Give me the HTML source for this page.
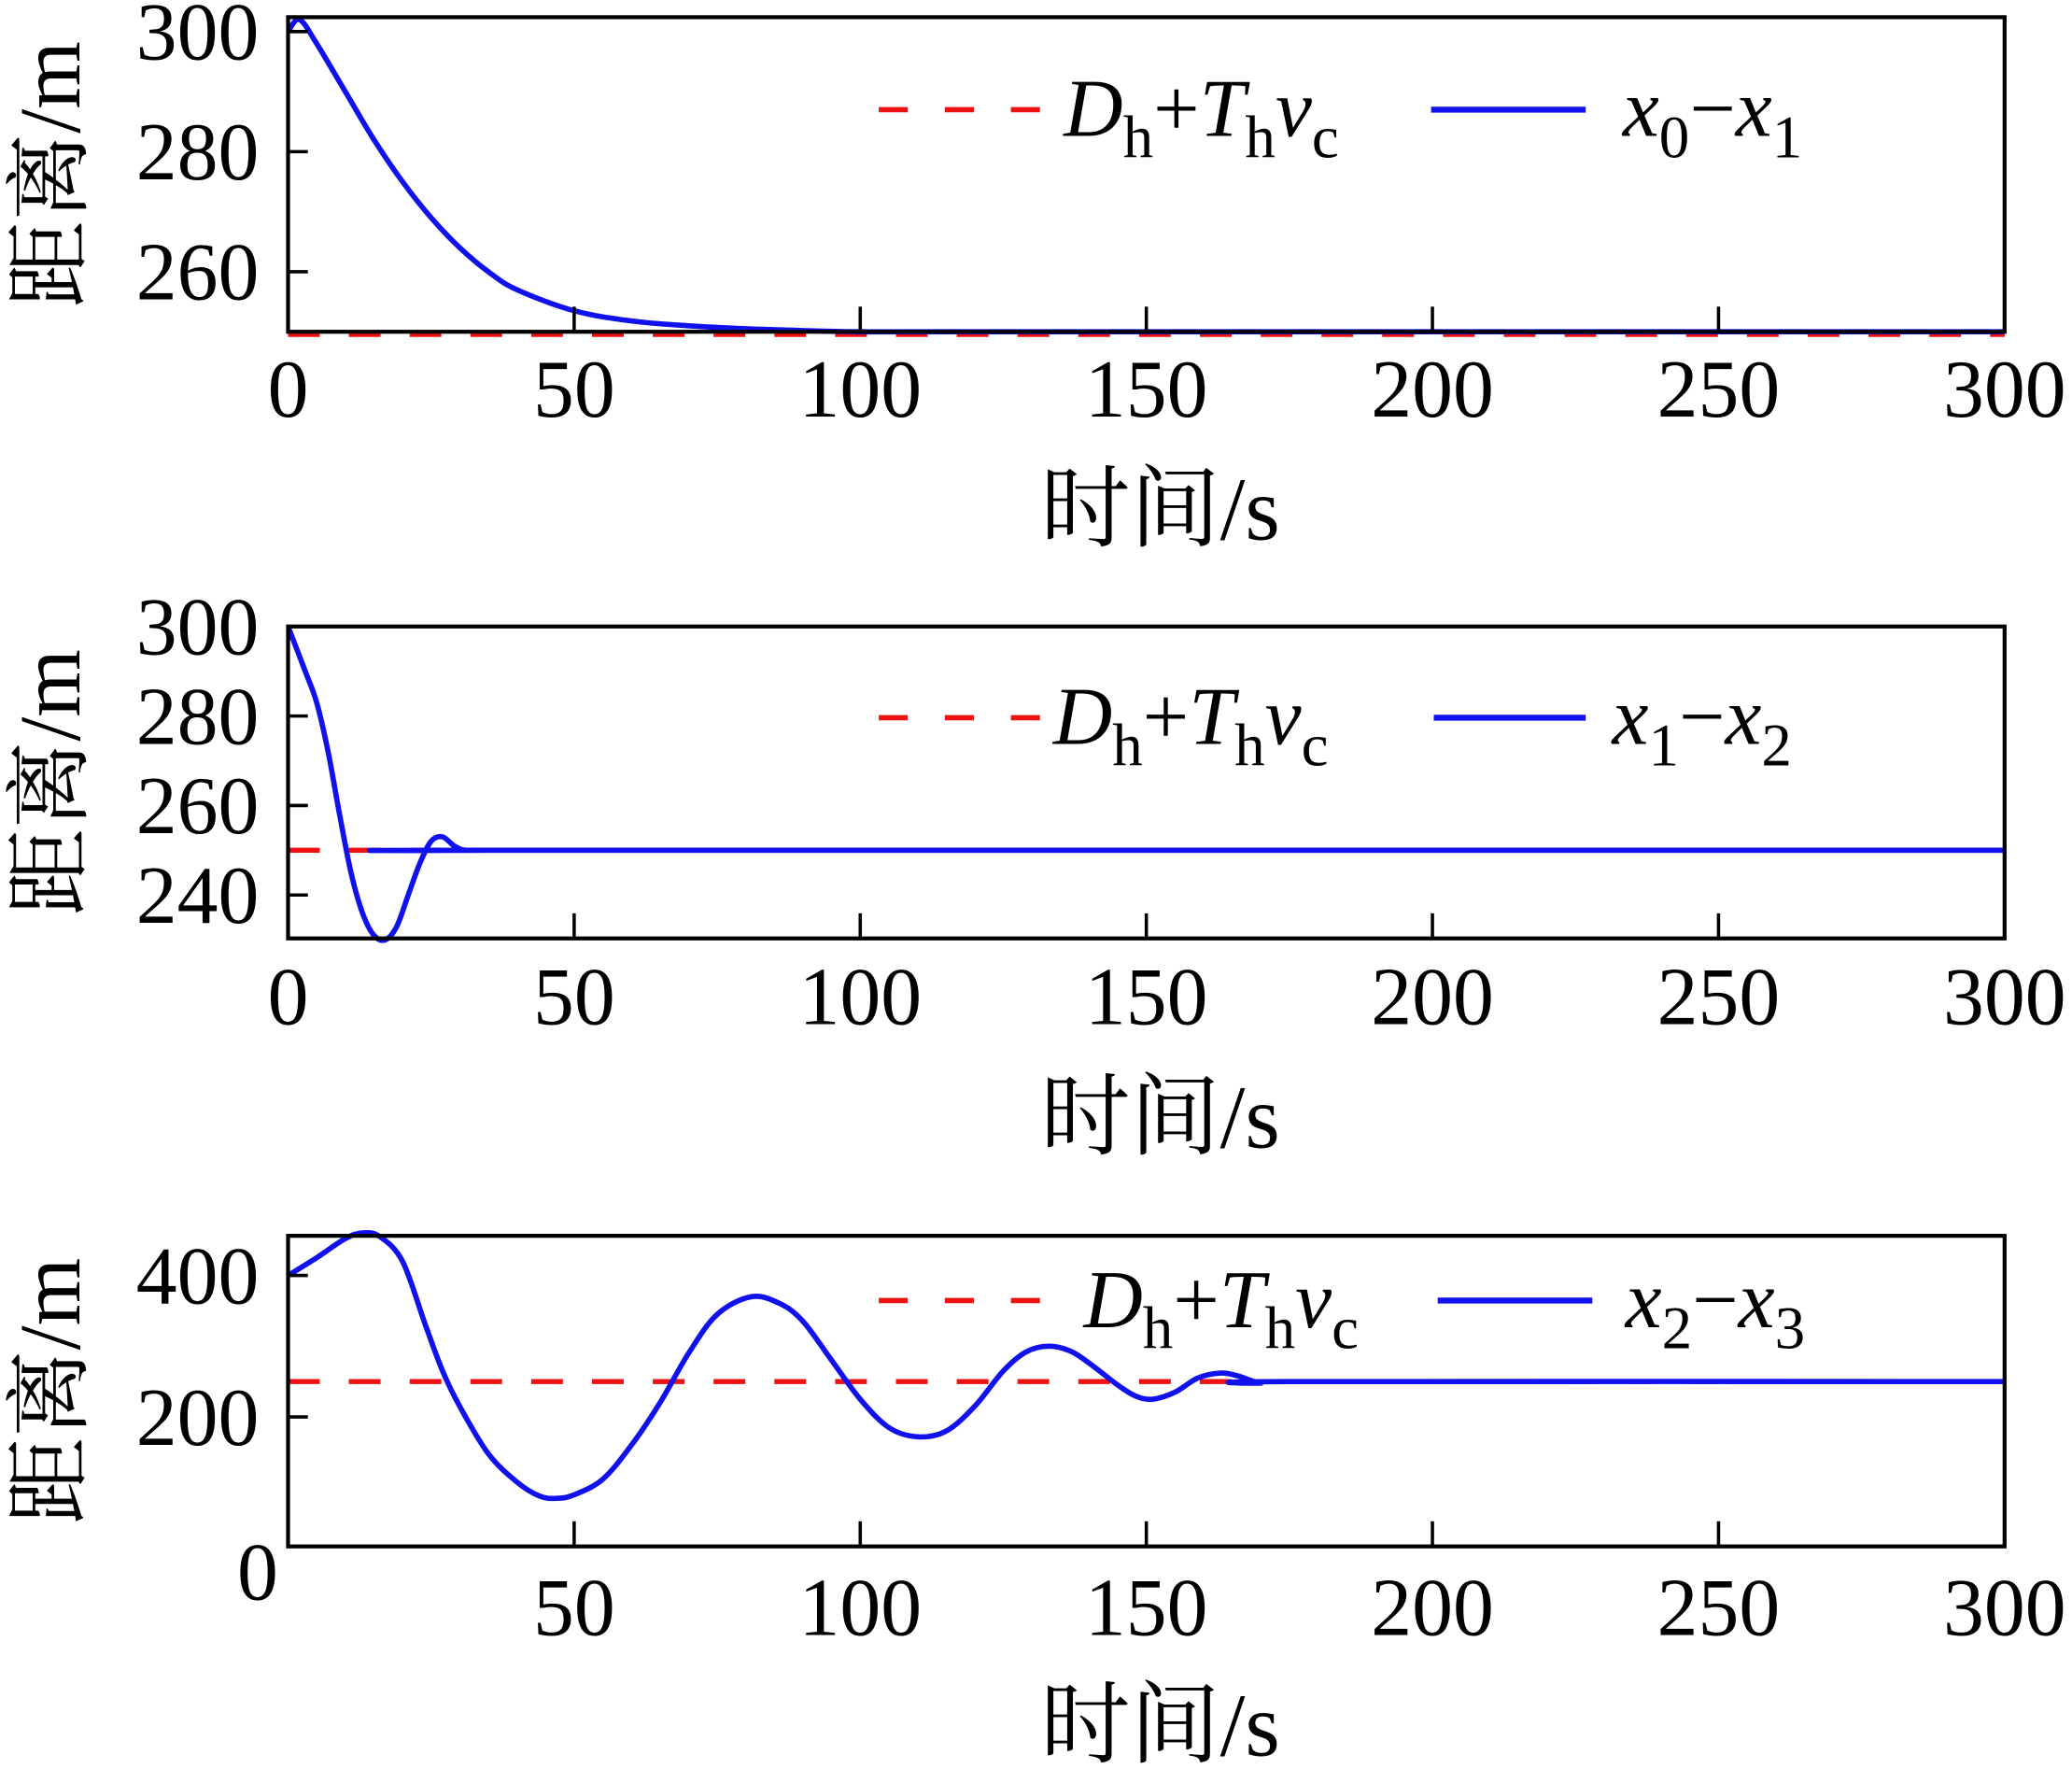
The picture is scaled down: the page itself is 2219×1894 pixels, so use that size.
<!DOCTYPE html>
<html><head><meta charset="utf-8"><style>
html,body{margin:0;padding:0;background:#fff;}
svg{display:block;}
text{font-family:"Liberation Serif","Noto Serif CJK SC",serif;fill:#000;}
</style></head><body>
<svg id="chart" width="2219" height="1894" viewBox="0 0 1568 1338.4" preserveAspectRatio="none" xmlns="http://www.w3.org/2000/svg"></svg>
<script>
// ---- data ----
const xTicks = [0, 50, 100, 150, 200, 250, 300];
const p1Ticks = [260, 280, 300];
const p2Ticks = [240, 260, 280, 300];
const p3Ticks = [200, 400];
const refValue = 250;
const p1T = [0, 2, 5, 10, 15, 20, 25, 30, 35, 40, 50, 60, 70, 80, 90, 100, 120, 300];
const p1V = [300, 302, 298, 290, 282, 275, 269, 264, 260, 257, 253.5, 251.8, 251, 250.5, 250.2, 250, 250, 250];
const p2T = [0, 3, 5, 7, 9, 11, 13, 15, 17, 19, 21, 23, 25, 27, 29, 31, 35, 300];
const p2V = [300, 290, 283, 272, 258, 245, 236, 231, 230, 233, 240, 247, 252, 253, 251, 250, 250, 250];
const p3T = [0, 5, 10, 13, 16, 20, 24, 27, 30, 35, 40, 44, 47, 50, 55, 60, 65, 70, 75, 81, 86, 90, 95, 100, 105, 110, 115, 120, 125, 129, 133, 137, 141, 145, 148, 151, 155, 159, 163, 166, 170, 175, 300];
const p3V = [400, 425, 452, 460, 455, 420, 330, 265, 215, 148, 108, 88, 85, 90, 112, 160, 220, 290, 345, 370, 360, 335, 280, 225, 185, 172, 180, 215, 265, 292, 300, 292, 270, 245, 230, 225, 235, 255, 262, 258, 248, 250, 250];
const seriesLabels = [["0","1"],["1","2"],["2","3"]];

const svg = document.getElementById('chart');
const NS = 'http://www.w3.org/2000/svg';
function mk(tag, attrs, parent){const e=document.createElementNS(NS,tag);for(const k in attrs)e.setAttribute(k,attrs[k]);(parent||svg).appendChild(e);return e;}

const L=218, R=1517;
const panels = [
 {top:13,bottom:251,ymin:250,ymax:302.4,ticks:p1Ticks,T:p1T,V:p1V,legY:83,dTx:805,xTx:1228,bl1:1083,bl2:1200,tickBase:315,titleBase:408},
 {top:474,bottom:710,ymin:230.3,ymax:300,ticks:p2Ticks,T:p2T,V:p2V,legY:543,dTx:797,xTx:1220,bl1:1085,bl2:1200,tickBase:775,titleBase:868},
 {top:935,bottom:1170,ymin:17,ymax:456,ticks:p3Ticks,T:p3T,V:p3V,legY:984,dTx:820,xTx:1230,bl1:1088,bl2:1205,tickBase:1237,titleBase:1328}
];

function smoothPath(pts){
  let d='M'+pts[0][0].toFixed(2)+','+pts[0][1].toFixed(2);
  for(let i=0;i<pts.length-1;i++){
    const p0=pts[Math.max(0,i-1)],p1=pts[i],p2=pts[i+1],p3=pts[Math.min(pts.length-1,i+2)];
    const c1=[p1[0]+(p2[0]-p0[0])/6,p1[1]+(p2[1]-p0[1])/6];
    const c2=[p2[0]-(p3[0]-p1[0])/6,p2[1]-(p3[1]-p1[1])/6];
    d+='C'+c1[0].toFixed(2)+','+c1[1].toFixed(2)+' '+c2[0].toFixed(2)+','+c2[1].toFixed(2)+' '+p2[0].toFixed(2)+','+p2[1].toFixed(2);
  }
  return d;
}

panels.forEach((p,idx)=>{
  const g=mk('g',{});
  
  
  const xs=t=>L+(t/300)*(R-L);
  const ys=v=>p.bottom-(v-p.ymin)/(p.ymax-p.ymin)*(p.bottom-p.top);
  const cp=mk('clipPath',{id:'clip'+idx},g);
  mk('rect',{x:L,y:p.top-6,width:R-L,height:p.bottom-p.top+10},cp);
  const ref=mk('line',{x1:L,x2:R,y1:ys(refValue)+(idx===0?2:0),y2:ys(refValue)+(idx===0?2:0),stroke:'#ee1111','stroke-width':3.8,'stroke-dasharray':'24 22'},g);
  
  
  const pts=p.T.map((t,i)=>[xs(t),ys(p.V[i])]);
  const path=mk('path',{d:smoothPath(pts),fill:'none',stroke:'#1111ee','stroke-width':4,'clip-path':'url(#clip'+idx+')'},g);
  
  
  const fr=mk('rect',{x:L,y:p.top,width:R-L,height:p.bottom-p.top,fill:'none',stroke:'#000','stroke-width':3},g);
  
  
  xTicks.forEach(t=>{
    if(t>0&&t<300){mk('line',{x1:xs(t),x2:xs(t),y1:p.bottom,y2:p.bottom-19,stroke:'#000','stroke-width':2.5},g);}
    if(idx===2&&t===0)return;
    const tx=mk('text',{x:xs(t),y:p.tickBase,'text-anchor':'middle','font-size':62},g);
    tx.textContent=t;
    
    
  });
  if(idx===2){const z=mk('text',{x:195,y:1210,'text-anchor':'middle','font-size':62},g);z.textContent='0';
    
    }
  p.ticks.forEach(v=>{
    mk('line',{x1:L,x2:L+15,y1:ys(v),y2:ys(v),stroke:'#000','stroke-width':2.5},g);
    const ty=mk('text',{x:196,y:ys(v)+21,'text-anchor':'end','font-size':62},g);
    ty.textContent=v;
    
    
  });
  const xt=mk('text',{x:878,y:p.titleBase,'text-anchor':'middle','font-size':68},g);
  xt.textContent='时间/s';
  
  
  const cy=(p.top+p.bottom)/2;
  const yt=mk('text',{x:0,y:0,'text-anchor':'middle','font-size':66,transform:'translate(60,'+cy+') rotate(-90)'},g);
  yt.textContent='距离/m';
  
  
  const lg=mk('g',{},g);
  
  
  mk('line',{x1:665,x2:787,y1:p.legY,y2:p.legY,stroke:'#ee1111','stroke-width':4,'stroke-dasharray':'22 28'},lg);
  const d=mk('text',{x:p.dTx,y:p.legY+20,'font-size':62,'font-style':'italic'},lg);
  d.innerHTML='D<tspan font-style="normal" font-size="46" dy="16">h</tspan><tspan font-style="normal" dy="-16">+</tspan>T<tspan font-style="normal" font-size="46" dy="16">h</tspan><tspan dy="-16">v</tspan><tspan font-style="normal" font-size="46" dy="16">c</tspan>';
  
  
  mk('line',{x1:p.bl1,x2:p.bl2,y1:p.legY,y2:p.legY,stroke:'#1111ee','stroke-width':4.5},lg);
  const s=seriesLabels[idx];
  const x=mk('text',{x:p.xTx,y:p.legY+20,'font-size':62,'font-style':'italic'},lg);
  x.innerHTML='x<tspan font-style="normal" font-size="46" dy="16">'+s[0]+'</tspan><tspan font-style="normal" dy="-16">−</tspan>x<tspan font-style="normal" font-size="46" dy="16">'+s[1]+'</tspan>';
  
  
});
</script>
</body></html>
